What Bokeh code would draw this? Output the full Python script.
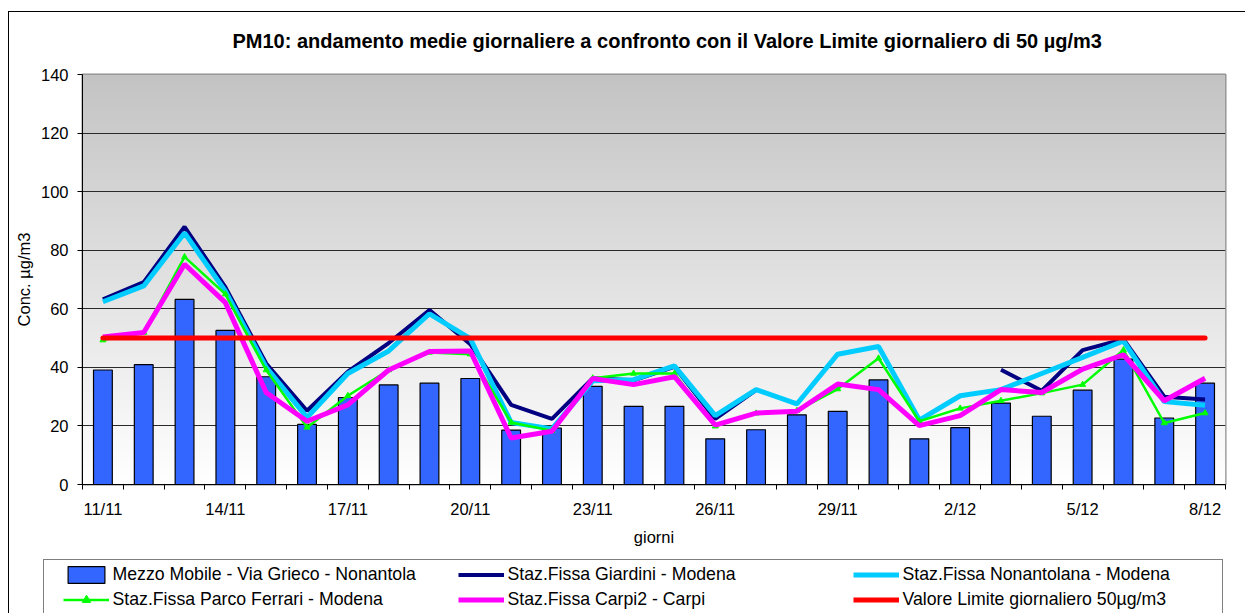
import numpy as np
from bokeh.plotting import figure
from bokeh.layouts import column
from bokeh.models import ColumnDataSource, FixedTicker, Legend, LegendItem, Range1d, Title
from bokeh.embed import file_html
from bokeh.resources import INLINE

nan = float("nan")

days = ["11/11", "12/11", "13/11", "14/11", "15/11", "16/11", "17/11", "18/11", "19/11",
        "20/11", "21/11", "22/11", "23/11", "24/11", "25/11", "26/11", "27/11", "28/11",
        "29/11", "30/11", "1/12", "2/12", "3/12", "4/12", "5/12", "6/12", "7/12", "8/12"]

mezzo_mobile = [39.1, 40.9, 63.2, 52.6, 36.8, 20.5, 29.7, 34.0, 34.6, 36.2, 18.6, 19.3, 33.5, 26.7,
                26.7, 15.6, 18.7, 23.8, 25.0, 35.7, 15.6, 19.4, 27.8, 23.3, 32.2, 42.8, 22.7, 34.6]
giardini = [63.2, 69.1, 88.0, 67.4, 41.3, 25.2, 38.5, 48.3, 59.6, 47.9, 27.2, 22.4, 36.3, 35.6,
            40.2, 22.4, 32.2, nan, nan, nan, nan, nan, 39.2, 32.0, 45.9, 49.6, 30.0, 29.0]
nonantolana = [62.4, 67.8, 85.9, 66.0, 40.0, 22.9, 37.9, 45.6, 58.3, 49.8, 21.2, 19.0, 35.4, 35.8,
               40.5, 23.5, 32.4, 27.5, 44.5, 47.1, 22.0, 30.3, 32.4, 37.9, 43.4, 49.0, 28.3, 27.1]
parco_ferrari = [49.3, 51.9, 77.7, 65.0, 39.1, 19.5, 30.3, 39.1, 45.1, 44.5, 21.2, 18.4, 36.3, 37.9,
                 37.9, 19.9, 24.3, 25.2, 32.6, 43.1, 21.6, 26.0, 28.6, 31.2, 34.1, 45.9, 21.0, 24.4]
carpi2 = [50.4, 51.9, 75.2, 62.1, 31.4, 21.6, 27.2, 39.1, 45.4, 45.6, 15.9, 18.2, 36.2, 34.1,
          36.8, 20.3, 24.4, 25.0, 34.3, 32.4, 20.1, 23.5, 32.4, 31.4, 39.4, 44.3, 28.6, 36.3]
valore_limite = [50, 50, 50, 50, 50, 50, 50, 50, 50, 50, 50, 50, 50, 50,
                 50, 50, 50, 50, 50, 50, 50, 50, 50, 50, 50, 50, 50, 50]

labels = ["Mezzo Mobile - Via Grieco - Nonantola", "Staz.Fissa Giardini - Modena",
          "Staz.Fissa Nonantolana - Modena", "Staz.Fissa Parco Ferrari - Modena",
          "Staz.Fissa Carpi2 - Carpi", "Valore Limite giornaliero 50\u00b5g/m3"]
title_text = "PM10: andamento  medie giornaliere a confronto con il Valore Limite giornaliero di 50 \u00b5g/m3"
y_ticks = [0, 20, 40, 60, 80, 100, 120, 140]

FONT = "Liberation Sans"
C_BAR, C_GIA, C_NON, C_PAR, C_CAR, C_LIM = "#3366FF", "#000080", "#00CCFF", "#00FF00", "#FF00FF", "#FF0000"

n = len(days)
xs = list(range(n))
src = ColumnDataSource(dict(x=xs, day=days, mezzo=mezzo_mobile, giardini=giardini,
                            nonantolana=nonantolana, parco=parco_ferrari, carpi=carpi2,
                            limite=valore_limite))

W = 1236
p = figure(width=W, height=545, output_backend="svg", toolbar_location=None, title=None,
           x_range=Range1d(-0.5, n - 0.5), y_range=Range1d(0, 140),
           min_border_left=73, min_border_right=20, min_border_top=62, min_border_bottom=73)
p.background_fill_color = "white"
p.border_fill_color = "white"
p.outline_line_color = "#8c8c8c"
p.outline_line_width = 2

# gradient background of the plot area
rows = 256
img = np.zeros((rows, 1), dtype=np.uint32)
view = img.view(dtype=np.uint8).reshape((rows, 1, 4))
for i in range(rows):
    g = int(round(255 - (i / (rows - 1)) * (255 - 195)))
    view[i, 0] = [g, g, g, 255]
p.image_rgba(image=[img], x=-0.5, y=0, dw=n, dh=140, level="image")

# grid
p.xgrid.visible = False
p.ygrid.ticker = FixedTicker(ticks=y_ticks)
p.ygrid.grid_line_color = "#2a2a2a"
p.ygrid.grid_line_width = 1

# axes
p.yaxis.ticker = FixedTicker(ticks=y_ticks)
p.yaxis.major_tick_out = 5
p.yaxis.major_tick_in = 0
p.yaxis.minor_tick_line_color = None
p.yaxis.major_label_standoff = 9
p.yaxis.axis_label = "Conc. \u00b5g/m3"
p.yaxis.axis_label_standoff = 5

tick_pos = xs[::3]
p.xaxis.ticker = FixedTicker(ticks=tick_pos, minor_ticks=[i - 0.5 for i in range(n + 1)])
p.xaxis.major_label_overrides = {i: days[i] for i in tick_pos}
p.xaxis.major_tick_in = 0
p.xaxis.major_tick_out = 0
p.xaxis.major_tick_line_color = None
p.xaxis.minor_tick_in = 0
p.xaxis.minor_tick_out = 5
p.xaxis.minor_tick_line_color = "black"
p.xaxis.major_label_standoff = 10
p.xaxis.axis_label = "giorni"
p.xaxis.axis_label_standoff = 7

for ax in (p.xaxis[0], p.yaxis[0]):
    ax.axis_line_color = "black"
    ax.axis_line_width = 1
    ax.major_label_text_font = FONT
    ax.major_label_text_font_size = "16.5px"
    ax.major_label_text_color = "black"
    ax.axis_label_text_font = FONT
    ax.axis_label_text_font_size = "16.5px"
    ax.axis_label_text_font_style = "normal"
    ax.axis_label_text_color = "black"

# title: a blank spacer next to the frame, then the real title above it
spacer = Title(text=" ", text_font_size="1px", standoff=19)
p.add_layout(spacer, "above")
main_title = Title(text=title_text, align="left", offset=150, standoff=2,
                   text_font=FONT, text_font_size="20px", text_font_style="bold",
                   text_color="black")
p.add_layout(main_title, "above")

# series
p.vbar(x="x", top="mezzo", width=0.46, fill_color=C_BAR, line_color="black",
       line_width=1.2, source=src)
p.line("x", "giardini", line_color=C_GIA, line_width=4, source=src)
p.line("x", "nonantolana", line_color=C_NON, line_width=5, source=src)
p.line("x", "parco", line_color=C_PAR, line_width=2.5, source=src)
p.scatter("x", "parco", marker="triangle", size=6, fill_color=C_PAR, line_color=C_PAR, source=src)
p.line("x", "carpi", line_color=C_CAR, line_width=5, source=src)
p.line("x", "limite", line_color=C_LIM, line_width=5, line_cap="round", source=src)

# legend strip (separate canvas below the chart)
lf = figure(width=W, height=56, output_backend="svg", toolbar_location=None,
            x_range=Range1d(0, 1), y_range=Range1d(0, 1), min_border=0,
            x_axis_location=None, y_axis_location=None)
lf.frame_align = False
lf.grid.visible = False
lf.outline_line_color = None
lf.background_fill_color = "white"
lf.border_fill_color = "white"

k_bar = lf.vbar(x=[nan], top=[nan], width=0.5, fill_color=C_BAR, line_color="black", line_width=1.2)
k_gia = lf.line(x=[nan], y=[nan], line_color=C_GIA, line_width=4)
k_non = lf.line(x=[nan], y=[nan], line_color=C_NON, line_width=5)
k_par = lf.line(x=[nan], y=[nan], line_color=C_PAR, line_width=2.5)
k_parm = lf.scatter(x=[nan], y=[nan], marker="triangle", size=6, fill_color=C_PAR, line_color=C_PAR)
k_car = lf.line(x=[nan], y=[nan], line_color=C_CAR, line_width=5)
k_lim = lf.line(x=[nan], y=[nan], line_color=C_LIM, line_width=5)
k_none = lf.line(x=[nan], y=[nan], line_alpha=0)

box = Legend(items=[LegendItem(label=" ", renderers=[k_none])], location=(33.7, -4),
             padding=0, margin=0, spacing=0, glyph_width=1, glyph_height=56,
             label_width=1177, label_height=56, label_standoff=0,
             border_line_color="black", border_line_width=1,
             background_fill_color="white", background_fill_alpha=1,
             label_text_font_size="1px")
lf.add_layout(box, "center")

legend = Legend(items=[
    LegendItem(label=labels[0], renderers=[k_bar]),
    LegendItem(label=labels[1], renderers=[k_gia]),
    LegendItem(label=labels[2], renderers=[k_non]),
    LegendItem(label=labels[3], renderers=[k_par, k_parm]),
    LegendItem(label=labels[4], renderers=[k_car]),
    LegendItem(label=labels[5], renderers=[k_lim]),
], location=(53.5, 3), orientation="horizontal", ncols=3,
    padding=3, margin=0, spacing=4, glyph_width=46, glyph_height=21,
    label_width=341, label_height=21, label_standoff=4,
    border_line_color=None, background_fill_alpha=0,
    label_text_font=FONT, label_text_font_size="17.7px", label_text_color="black")
lf.add_layout(legend, "center")

layout = column(p, lf, spacing=0)
layout.styles = {"margin-left": "8px", "margin-top": "11px",
                 "border-left": "1px solid black", "border-top": "1px solid black"}

open("out.html", "w").write(file_html(layout, INLINE))
